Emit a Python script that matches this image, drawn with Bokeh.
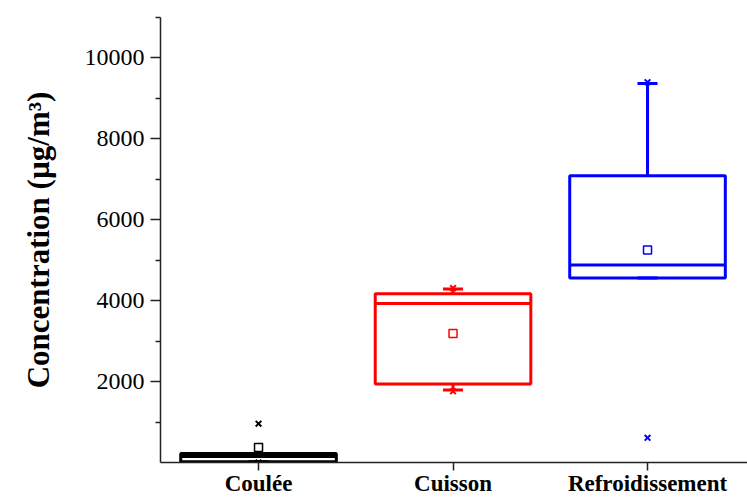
from bokeh.plotting import figure
from bokeh.models import FixedTicker
from bokeh.embed import file_html
from bokeh.resources import INLINE

# ---- data ----
categories = ["Coulée", "Cuisson", "Refroidissement"]
positions = [1, 2, 3]
colors = ["#000000", "#ff0000", "#0000ff"]
q1 = [20, 1940, 4560]
median = [150, 3930, 4880]
q3 = [220, 4170, 7090]
mean = [370, 3190, 5250]
whisker_low = [20, 1790, 4560]
whisker_high = [220, 4290, 9370]
pct_low = [0, 1760, 610]
pct_high = [960, 4310, 9400]

y_major = [2000, 4000, 6000, 8000, 10000]
y_minor = [1000, 3000, 5000, 7000, 9000, 11000]

p = figure(width=747, height=499, x_range=(0.496, 3.514), y_range=(0, 11000),
           output_backend="svg", toolbar_location=None,
           min_border_left=160, min_border_right=0, min_border_top=17, min_border_bottom=37)
p.outline_line_color = None
p.grid.visible = False
p.background_fill_color = "white"
p.border_fill_color = "white"

FONT = "Liberation Serif"

# boxes
p.vbar(x=positions, width=0.8, bottom=q1, top=q3, fill_color=None,
       line_color=colors, line_width=3)
# medians
p.segment(x0=[x - 0.4 for x in positions], x1=[x + 0.4 for x in positions],
          y0=median, y1=median, line_color=colors, line_width=3)
# whiskers
p.segment(x0=positions, x1=positions, y0=q3, y1=whisker_high, line_color=colors, line_width=3)
p.segment(x0=positions, x1=positions, y0=q1, y1=whisker_low, line_color=colors, line_width=3)
# whisker caps
p.scatter(x=positions, y=whisker_high, marker="dash", size=20, line_color=colors, line_width=3)
p.scatter(x=positions, y=whisker_low, marker="dash", size=20, line_color=colors, line_width=3)
# percentile crosses
p.scatter(x=positions, y=pct_high, marker="x", size=8, line_color=colors, line_width=2)
p.scatter(x=positions, y=pct_low, marker="x", size=8, line_color=colors, line_width=2)
# means
p.scatter(x=positions, y=mean, marker="square", size=8, fill_color=None,
          line_color=colors, line_width=1.5)

# x axis
xa = p.xaxis[0]
xa.ticker = FixedTicker(ticks=positions, minor_ticks=[])
xa.major_label_overrides = {x: c for x, c in zip(positions, categories)}
xa.major_tick_out = 8
xa.major_tick_in = 0
xa.minor_tick_out = 0
xa.minor_tick_in = 0
xa.major_label_standoff = 0
xa.major_label_text_font = FONT
xa.major_label_text_font_style = "bold"
xa.major_label_text_font_size = "23px"
xa.major_label_text_color = "#000000"
xa.axis_line_width = 1.5
xa.major_tick_line_width = 1.5
xa.axis_line_color = "#222222"
xa.major_tick_line_color = "#222222"

# y axis
ya = p.yaxis[0]
ya.ticker = FixedTicker(ticks=y_major, minor_ticks=y_minor)
ya.major_tick_out = 10
ya.major_tick_in = 0
ya.minor_tick_out = 5
ya.minor_tick_in = 0
ya.major_label_standoff = 6
ya.major_label_text_font = FONT
ya.major_label_text_font_size = "24px"
ya.major_label_text_color = "#000000"
ya.axis_label = "Concentration (µg/m³)"
ya.axis_label_text_font = FONT
ya.axis_label_text_font_style = "bold"
ya.axis_label_text_font_size = "31px"
ya.axis_label_text_color = "#000000"
ya.axis_label_standoff = 26
ya.axis_line_width = 1.5
ya.major_tick_line_width = 1.5
ya.minor_tick_line_width = 1.5
ya.axis_line_color = "#222222"
ya.major_tick_line_color = "#222222"
ya.minor_tick_line_color = "#222222"

open("out.html", "w").write(file_html(p, INLINE))
